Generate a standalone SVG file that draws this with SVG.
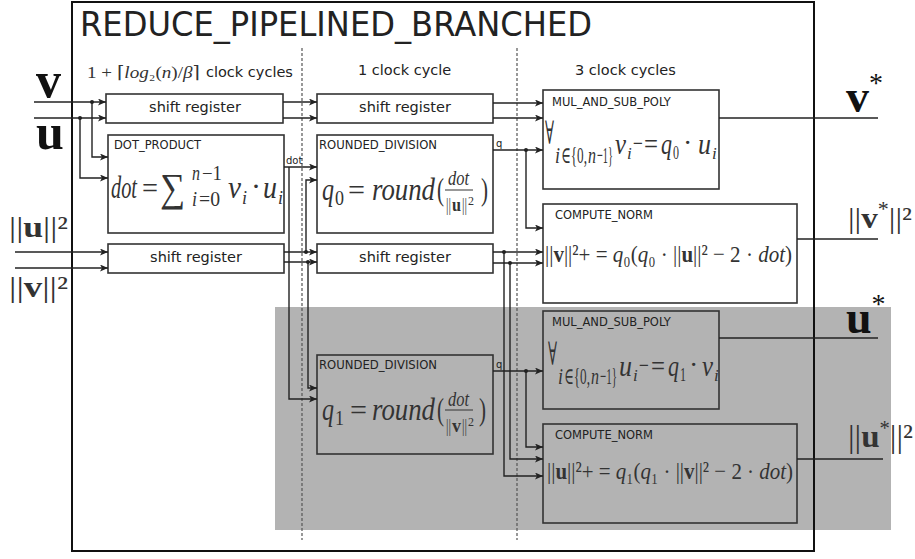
<svg xmlns="http://www.w3.org/2000/svg" width="915" height="559" viewBox="0 0 915 559">
<defs>
<marker id="ah" markerUnits="userSpaceOnUse" markerWidth="9" markerHeight="7" refX="8" refY="3.5" orient="auto"><path d="M0,0 L8,3.5 L0,7 L2,3.5 z" fill="#222"/></marker>
<style>
.box{fill:none;stroke:#333;stroke-width:1.6}
.w{fill:none;stroke:#222;stroke-width:1.4}
.a{marker-end:url(#ah)}
.jd{fill:#222}
.lbl{font-family:"DejaVu Sans",sans-serif;fill:#222}
.t{font-family:"DejaVu Sans",sans-serif;font-size:11.5px;fill:#222}
.sr{font-family:"DejaVu Sans",sans-serif;font-size:14.5px;fill:#222;text-anchor:middle}
.m{font-family:"Liberation Serif","DejaVu Serif",serif;font-style:italic;fill:#333}
.r{font-family:"Liberation Serif","DejaVu Serif",serif;fill:#333}
.b{font-family:"Liberation Serif","DejaVu Serif",serif;font-weight:bold;fill:#111}
.n{font-style:normal}
.bd{font-weight:bold;font-style:normal}
.dash{stroke:#555;stroke-width:1.2;stroke-dasharray:3,2}
.fb{stroke:#333;stroke-width:1}
</style>
</defs>
<rect x="0" y="0" width="915" height="559" fill="#fff"/>
<rect x="275" y="307" width="616" height="223" fill="#b3b3b3"/>
<rect x="72" y="2" width="742" height="549" fill="none" stroke="#111" stroke-width="2"/>
<line class="dash" x1="302" y1="48" x2="302" y2="540"/>
<line class="dash" x1="517" y1="48" x2="517" y2="540"/>
<text class="lbl" x="80" y="36" font-size="33" textLength="512" lengthAdjust="spacingAndGlyphs">REDUCE_PIPELINED_BRANCHED</text>
<text class="r" x="87" y="78" font-size="17" textLength="113" lengthAdjust="spacingAndGlyphs" fill="#555">1 + ⌈<tspan font-style="italic">log</tspan>₂(<tspan font-style="italic">n</tspan>)/<tspan font-style="italic">β</tspan>⌉</text>
<text class="lbl" x="206" y="77" font-size="14.5">clock cycles</text>
<text class="lbl" x="358" y="75" font-size="14.5">1 clock cycle</text>
<text class="lbl" x="575" y="75" font-size="14.5">3 clock cycles</text>

<g id="sr_vu_1"><rect class="box" x="106" y="94" width="177" height="29"/><text class="sr" x="195" y="112">shift register</text></g>
<g id="dot_product"><rect class="box" x="108" y="135" width="176" height="98"/><text class="t" x="114" y="149">DOT_PRODUCT</text>
<text class="m" font-size="32"><tspan x="111" y="198" textLength="26" lengthAdjust="spacingAndGlyphs">dot</tspan><tspan class="n" x="142" y="198" font-size="30" textLength="16" lengthAdjust="spacingAndGlyphs">=</tspan><tspan class="n" x="160" y="201" font-size="40" textLength="25" lengthAdjust="spacingAndGlyphs">∑</tspan><tspan x="192" y="180" font-size="20" textLength="8" lengthAdjust="spacingAndGlyphs">n</tspan><tspan class="n" x="202" y="180" font-size="20" textLength="20" lengthAdjust="spacingAndGlyphs">−1</tspan><tspan x="192" y="206" font-size="20" textLength="5" lengthAdjust="spacingAndGlyphs">i</tspan><tspan class="n" x="199" y="206" font-size="20" textLength="21" lengthAdjust="spacingAndGlyphs">=0</tspan><tspan x="228" y="198" textLength="13" lengthAdjust="spacingAndGlyphs">v</tspan><tspan x="242" y="204" font-size="18">i</tspan><tspan class="n" x="251" y="196" font-size="30">·</tspan><tspan x="263" y="198" textLength="14" lengthAdjust="spacingAndGlyphs">u</tspan><tspan x="278" y="204" font-size="18">i</tspan></text>
</g>
<g id="sr_norms_1"><rect class="box" x="108" y="244" width="176" height="29"/><text class="sr" x="196" y="262">shift register</text></g>
<g id="sr_vu_2"><rect class="box" x="317" y="94" width="176" height="29"/><text class="sr" x="405" y="112">shift register</text></g>
<g id="rounded_division_0"><rect class="box" x="317" y="135" width="176" height="98"/><text class="t" x="319" y="149" textLength="118" lengthAdjust="spacingAndGlyphs">ROUNDED_DIVISION</text>
<text class="m" font-size="32"><tspan x="322" y="200" textLength="12" lengthAdjust="spacingAndGlyphs">q</tspan><tspan class="n" x="335" y="205" font-size="20" textLength="9" lengthAdjust="spacingAndGlyphs">0</tspan><tspan class="n" x="348" y="200" font-size="30" textLength="17" lengthAdjust="spacingAndGlyphs">=</tspan><tspan x="372" y="200" textLength="63" lengthAdjust="spacingAndGlyphs">round</tspan><tspan class="n" x="437" y="200" textLength="7" lengthAdjust="spacingAndGlyphs">(</tspan><tspan x="448" y="185" font-size="20" textLength="21" lengthAdjust="spacingAndGlyphs">dot</tspan><tspan class="n" x="446" y="211" font-size="18" textLength="5" lengthAdjust="spacingAndGlyphs">||</tspan><tspan class="bd" x="452" y="211" font-size="18" textLength="9" lengthAdjust="spacingAndGlyphs">u</tspan><tspan class="n" x="462" y="211" font-size="18" textLength="5" lengthAdjust="spacingAndGlyphs">||</tspan><tspan class="n" x="468" y="205" font-size="12">2</tspan><tspan class="n" x="481" y="200" textLength="7" lengthAdjust="spacingAndGlyphs">)</tspan></text>
<line class="fb" x1="445" y1="190" x2="473" y2="190"/>
</g>
<g id="sr_norms_2"><rect class="box" x="317" y="244" width="176" height="29"/><text class="sr" x="405" y="262">shift register</text></g>
<g id="rounded_division_1"><rect class="box" x="317" y="355" width="176" height="99"/><text class="t" x="319" y="369" textLength="118" lengthAdjust="spacingAndGlyphs">ROUNDED_DIVISION</text>
<text class="m" font-size="32"><tspan x="322" y="420" textLength="12" lengthAdjust="spacingAndGlyphs">q</tspan><tspan class="n" x="335" y="425" font-size="20" textLength="9" lengthAdjust="spacingAndGlyphs">1</tspan><tspan class="n" x="350" y="420" font-size="30" textLength="17" lengthAdjust="spacingAndGlyphs">=</tspan><tspan x="372" y="420" textLength="63" lengthAdjust="spacingAndGlyphs">round</tspan><tspan class="n" x="437" y="420" textLength="7" lengthAdjust="spacingAndGlyphs">(</tspan><tspan x="448" y="406" font-size="20" textLength="21" lengthAdjust="spacingAndGlyphs">dot</tspan><tspan class="n" x="446" y="432" font-size="18" textLength="5" lengthAdjust="spacingAndGlyphs">||</tspan><tspan class="bd" x="452" y="432" font-size="18" textLength="9" lengthAdjust="spacingAndGlyphs">v</tspan><tspan class="n" x="462" y="432" font-size="18" textLength="5" lengthAdjust="spacingAndGlyphs">||</tspan><tspan class="n" x="468" y="426" font-size="12">2</tspan><tspan class="n" x="479" y="420" textLength="7" lengthAdjust="spacingAndGlyphs">)</tspan></text>
<line class="fb" x1="445" y1="410" x2="473" y2="410"/>
</g>
<g id="mul_and_sub_poly_0"><rect class="box" x="543" y="90" width="176" height="99"/><text class="t" x="552" y="106">MUL_AND_SUB_POLY</text>
<text class="m" font-size="30"><tspan class="n" x="545" y="144" font-size="32" textLength="9" lengthAdjust="spacingAndGlyphs">∀</tspan><tspan x="555" y="163" font-size="23" textLength="5" lengthAdjust="spacingAndGlyphs">i</tspan><tspan class="n" x="561" y="163" font-size="23" textLength="26" lengthAdjust="spacingAndGlyphs">∈{0,</tspan><tspan x="588" y="163" font-size="23" textLength="8" lengthAdjust="spacingAndGlyphs">n</tspan><tspan class="n" x="597" y="163" font-size="23" textLength="16" lengthAdjust="spacingAndGlyphs">−1}</tspan><tspan x="615" y="154" textLength="11" lengthAdjust="spacingAndGlyphs">v</tspan><tspan x="627" y="159" font-size="17">i</tspan><tspan class="n" x="633" y="152" font-size="26" textLength="10" lengthAdjust="spacingAndGlyphs">−</tspan><tspan class="n" x="644" y="154" textLength="14" lengthAdjust="spacingAndGlyphs">=</tspan><tspan x="661" y="154" textLength="11" lengthAdjust="spacingAndGlyphs">q</tspan><tspan class="n" x="673" y="159" font-size="19" textLength="6" lengthAdjust="spacingAndGlyphs">0</tspan><tspan class="n" x="683" y="152" font-size="28">·</tspan><tspan x="698" y="154" textLength="13" lengthAdjust="spacingAndGlyphs">u</tspan><tspan x="712" y="159" font-size="17">i</tspan></text>
</g>
<g id="compute_norm_0"><rect class="box" x="543" y="204" width="254" height="99"/><text class="t" x="555" y="219">COMPUTE_NORM</text>
<text class="r" x="545" y="262" font-size="24" textLength="247" lengthAdjust="spacingAndGlyphs">||<tspan font-weight="bold">v</tspan>||²+ = <tspan font-style="italic">q</tspan>₀(<tspan font-style="italic">q</tspan>₀ · ||<tspan font-weight="bold">u</tspan>||² − 2 · <tspan font-style="italic">dot</tspan>)</text>
</g>
<g id="mul_and_sub_poly_1"><rect class="box" x="543" y="311" width="176" height="98"/><text class="t" x="552" y="326">MUL_AND_SUB_POLY</text>
<text class="m" font-size="30"><tspan class="n" x="548" y="365" font-size="32" textLength="9" lengthAdjust="spacingAndGlyphs">∀</tspan><tspan x="558" y="384" font-size="23" textLength="5" lengthAdjust="spacingAndGlyphs">i</tspan><tspan class="n" x="564" y="384" font-size="23" textLength="26" lengthAdjust="spacingAndGlyphs">∈{0,</tspan><tspan x="591" y="384" font-size="23" textLength="8" lengthAdjust="spacingAndGlyphs">n</tspan><tspan class="n" x="600" y="384" font-size="23" textLength="17" lengthAdjust="spacingAndGlyphs">−1}</tspan><tspan x="619" y="376" textLength="13" lengthAdjust="spacingAndGlyphs">u</tspan><tspan x="633" y="381" font-size="17">i</tspan><tspan class="n" x="639" y="374" font-size="26" textLength="10" lengthAdjust="spacingAndGlyphs">−</tspan><tspan class="n" x="651" y="376" textLength="14" lengthAdjust="spacingAndGlyphs">=</tspan><tspan x="668" y="376" textLength="11" lengthAdjust="spacingAndGlyphs">q</tspan><tspan class="n" x="680" y="381" font-size="19" textLength="6" lengthAdjust="spacingAndGlyphs">1</tspan><tspan class="n" x="689" y="374" font-size="28">·</tspan><tspan x="702" y="376" textLength="11" lengthAdjust="spacingAndGlyphs">v</tspan><tspan x="714" y="381" font-size="17">i</tspan></text>
</g>
<g id="compute_norm_1"><rect class="box" x="543" y="424" width="254" height="99"/><text class="t" x="555" y="439">COMPUTE_NORM</text>
<text class="r" x="547" y="479" font-size="24" textLength="246" lengthAdjust="spacingAndGlyphs">||<tspan font-weight="bold">u</tspan>||²+ = <tspan font-style="italic">q</tspan>₁(<tspan font-style="italic">q</tspan>₁ · ||<tspan font-weight="bold">v</tspan>||² − 2 · <tspan font-style="italic">dot</tspan>)</text>
</g>

<g id="connectors">
<path class="w a" d="M34,102 H106"/>
<path class="w a" d="M34,118 H106"/>
<path class="w a" d="M92,102 V157 H108"/>
<path class="w a" d="M80,118 V178 H108"/>
<path class="w a" d="M283,102 H317"/>
<path class="w a" d="M283,118 H317"/>
<path class="w a" d="M493,103 H543"/>
<path class="w a" d="M493,118 H543"/>
<path class="w a" d="M284,167 H317"/>
<path class="w a" d="M289,167 V399 H317"/>
<path class="w a" d="M15,252 H108"/>
<path class="w a" d="M15,268 H108"/>
<path class="w a" d="M284,252 H317"/>
<path class="w a" d="M284,262 H317"/>
<path class="w a" d="M306,252 V180 H317"/>
<path class="w a" d="M308,262 V388 H317"/>
<path class="w a" d="M493,150 H543"/>
<path class="w a" d="M526,150 V228 H543"/>
<path class="w a" d="M493,252 H543"/>
<path class="w a" d="M493,263 H543"/>
<path class="w a" d="M504,252 V476 H543"/>
<path class="w a" d="M510,263 V459 H543"/>
<path class="w a" d="M493,371 H543"/>
<path class="w a" d="M526,371 V447 H543"/>
<path class="w" d="M719,118 H878"/>
<path class="w" d="M797,239 H878"/>
<path class="w" d="M719,338 H878"/>
<path class="w" d="M797,459 H883"/>
<circle class="jd" cx="92" cy="102" r="2"/>
<circle class="jd" cx="80" cy="118" r="2"/>
<circle class="jd" cx="306" cy="252" r="2"/>
<circle class="jd" cx="308" cy="262" r="2"/>
<circle class="jd" cx="526" cy="150" r="2"/>
<circle class="jd" cx="504" cy="252" r="2"/>
<circle class="jd" cx="510" cy="263" r="2"/>
<circle class="jd" cx="526" cy="371" r="2"/>
<text class="lbl" x="286" y="164" font-size="10">dot</text>
<text class="lbl" x="496" y="147" font-size="10">q</text>
<text class="lbl" x="496" y="368" font-size="10">q</text>
</g>

<text class="b" x="36" y="97" font-size="50">v</text>
<text class="b" x="36" y="149" font-size="50">u</text>
<text class="r" x="9" y="237" font-size="30" fill="#111" textLength="59" lengthAdjust="spacingAndGlyphs">||<tspan font-weight="bold">u</tspan>||²</text>
<text class="r" x="9" y="297" font-size="30" fill="#111" textLength="59" lengthAdjust="spacingAndGlyphs">||<tspan font-weight="bold">v</tspan>||²</text>
<text class="b" x="846" y="112" font-size="46">v<tspan dy="-20" font-size="28" font-weight="normal">*</tspan></text>
<text class="r" x="848" y="228" font-size="30" fill="#111" textLength="64" lengthAdjust="spacingAndGlyphs">||<tspan font-weight="bold">v</tspan><tspan dy="-12" font-size="20">*</tspan><tspan dy="12">||²</tspan></text>
<text class="b" x="846" y="333" font-size="46">u<tspan dy="-20" font-size="28" font-weight="normal">*</tspan></text>
<text class="r" x="848" y="447" font-size="32" fill="#111" textLength="65" lengthAdjust="spacingAndGlyphs">||<tspan font-weight="bold">u</tspan><tspan dy="-12" font-size="20">*</tspan><tspan dy="12">||²</tspan></text>
</svg>
